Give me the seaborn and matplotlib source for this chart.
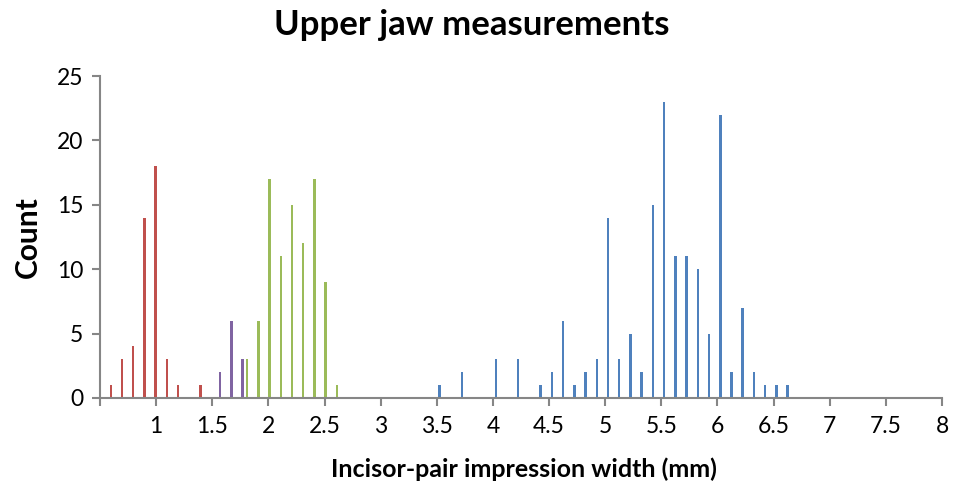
import numpy as np
import pandas as pd
import matplotlib
matplotlib.use("Agg")
import matplotlib.pyplot as plt
import seaborn as sns

# ---- data ----
red_x = [0.6, 0.7, 0.8, 0.9, 1.0, 1.1, 1.2, 1.4]
red_n = [1, 3, 4, 14, 18, 3, 1, 1]

purple_x = [1.6, 1.7, 1.8]
purple_n = [2, 6, 3]

green_x = [1.8, 1.9, 2.0, 2.1, 2.2, 2.3, 2.4, 2.5, 2.6]
green_n = [3, 6, 17, 11, 15, 12, 17, 9, 1]

blue_x = [3.5, 3.7, 4.0, 4.2, 4.4, 4.5, 4.6, 4.7, 4.8, 4.9, 5.0,
          5.1, 5.2, 5.3, 5.4, 5.5, 5.6, 5.7, 5.8, 5.9, 6.0,
          6.1, 6.2, 6.3, 6.4, 6.5, 6.6]
blue_n = [1, 2, 3, 3, 1, 2, 6, 1, 2, 3, 14,
          3, 5, 2, 15, 23, 11, 11, 10, 5, 22,
          2, 7, 2, 1, 1, 1]

x_ticks = [0.5, 1, 1.5, 2, 2.5, 3, 3.5, 4, 4.5, 5, 5.5, 6, 6.5, 7, 7.5, 8]
x_labels = ["", "1", "1.5", "2", "2.5", "3", "3.5", "4", "4.5", "5",
            "5.5", "6", "6.5", "7", "7.5", "8"]
y_ticks = [0, 5, 10, 15, 20, 25]

title = "Upper jaw measurements"
xlabel = "Incisor-pair impression width (mm)"
ylabel = "Count"

# ---- styling ----
sns.set_theme(style="white")
plt.rcParams["font.family"] = ["Lato", "DejaVu Sans"]

groups = [
    (red_x, red_n, "#C0504D", -0.004),
    (purple_x, purple_n, "#8064A2", -0.030),
    (green_x, green_n, "#9BBB59", 0.010),
    (blue_x, blue_n, "#4F81BD", 0.025),
]

fig = plt.figure(figsize=(9.55, 4.9), dpi=100)
ax = fig.add_axes([100 / 955, 1 - 398 / 490, 842 / 955, (398 - 76) / 490])

for xs, ns, col, off in groups:
    df = pd.DataFrame({"x": np.array(xs) + off, "n": ns})
    sns.barplot(data=df, x="x", y="n", native_scale=True, color=col,
                width=0.22, ax=ax, saturation=1, legend=False,
                linewidth=0, errorbar=None)

ax.set_xlim(0.5, 8)
ax.set_ylim(0, 25)
ax.set_xticks(x_ticks)
ax.set_xticklabels(x_labels)
ax.set_yticks(y_ticks)

gray = "#868686"
for s in ["top", "right"]:
    ax.spines[s].set_visible(False)
for s in ["left", "bottom"]:
    ax.spines[s].set_color(gray)
    ax.spines[s].set_linewidth(1.5)
ax.tick_params(axis="both", which="both", direction="out", length=6,
               width=1.5, color=gray, labelsize=16.5, labelcolor="#000000",
               left=True, bottom=True)
ax.tick_params(axis="x", pad=7)
ax.tick_params(axis="y", pad=6)

ax.set_xlabel("")
ax.set_ylabel("")
fig.text(524 / 955, 1 - 469 / 490, xlabel, ha="center", va="center",
         fontsize=18, fontweight="bold", color="#000000")
fig.text(28 / 955, 1 - 237 / 490, ylabel, ha="center", va="center",
         rotation=90, fontsize=21.5, fontweight="bold", color="#000000")
fig.text(472 / 955, 1 - 25 / 490, title, ha="center", va="center",
         fontsize=25, fontweight="bold", color="#000000")

fig.savefig("out.png", dpi=100)
